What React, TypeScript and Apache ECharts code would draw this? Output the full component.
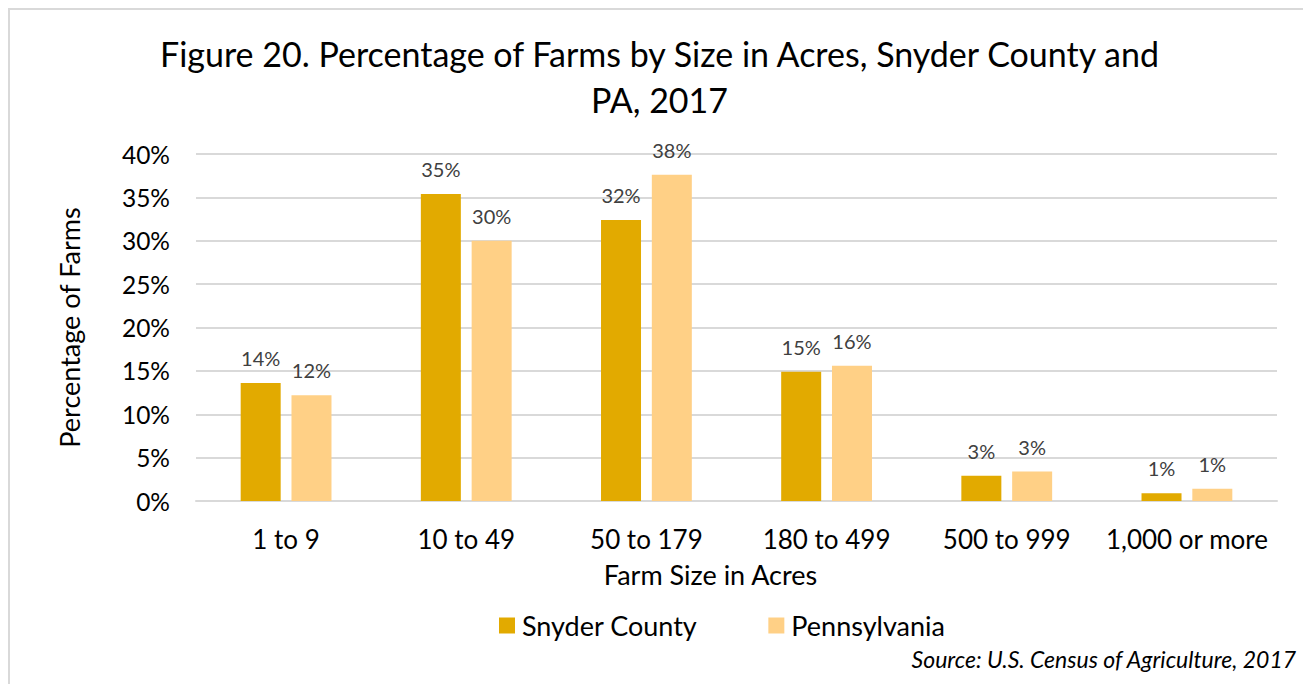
import React, { useEffect, useRef } from "react";
import * as echarts from "echarts";

const categories = ["1 to 9", "10 to 49", "50 to 179", "180 to 499", "500 to 999", "1,000 or more"];
const snyderValues = [13.6, 35.4, 32.4, 14.9, 2.9, 0.9];
const paValues = [12.2, 30.0, 37.6, 15.6, 3.4, 1.4];
const seriesNames = ["Snyder County", "Pennsylvania"];
const yTicks = { min: 0, max: 40, interval: 5 };

const FONT = "Lato";

export default function App() {
  const ref = useRef<HTMLDivElement>(null);
  useEffect(() => {
    if (!ref.current) return;
    const chart = echarts.init(ref.current, undefined, { renderer: "svg" });
    const labelCfg = {
      show: true,
      position: "top",
      distance: 15,
      fontFamily: FONT,
      fontSize: 20,
      color: "#404040",
      formatter: (p: any) => Math.round(p.value) + "%",
    };
    chart.setOption({
      animation: false,
      backgroundColor: "#ffffff",
      title: {
        text: "Figure 20. Percentage of Farms by Size in Acres, Snyder County and\nPA, 2017",
        left: "center",
        top: 17,
        textStyle: {
          fontFamily: FONT,
          fontSize: 34,
          fontWeight: "normal",
          color: "#000000",
          lineHeight: 46,
        },
      },
      legend: {
        data: seriesNames,
        left: 486,
        top: 599,
        itemWidth: 16,
        itemHeight: 16,
        itemGap: 71,
        icon: "rect",
        textStyle: { fontFamily: FONT, fontSize: 27, color: "#000000", padding: [0, 0, 0, 2] },
      },
      grid: { left: 188, right: 34, top: 146, bottom: 183, containLabel: false },
      xAxis: {
        type: "category",
        data: categories,
        name: "Farm Size in Acres",
        nameLocation: "middle",
        nameGap: 60,
        nameTextStyle: { fontFamily: FONT, fontSize: 27, color: "#000000", padding: [0, 52, 0, 0] },
        axisLine: { show: true, lineStyle: { color: "#d9d9d9", width: 2 } },
        axisTick: { show: false },
        axisLabel: { fontFamily: FONT, fontSize: 26, color: "#000000", margin: 25, interval: 0 },
      },
      yAxis: {
        type: "value",
        min: yTicks.min,
        max: yTicks.max,
        interval: yTicks.interval,
        name: "Percentage of Farms",
        nameLocation: "middle",
        nameGap: 113,
        nameTextStyle: { fontFamily: FONT, fontSize: 27, color: "#000000" },
        axisLine: { show: false },
        axisTick: { show: false },
        splitLine: { lineStyle: { color: "#d9d9d9", width: 2 } },
        axisLabel: { fontFamily: FONT, fontSize: 24.5, color: "#000000", margin: 26, formatter: "{value}%" },
      },
      series: [
        {
          name: seriesNames[0],
          type: "bar",
          data: snyderValues,
          barWidth: 40,
          barGap: "27%",
          itemStyle: { color: "#E2AA00" },
          label: labelCfg,
        },
        {
          name: seriesNames[1],
          type: "bar",
          data: paValues,
          barWidth: 40,
          itemStyle: { color: "#FFD086" },
          label: labelCfg,
        },
      ],
      graphic: [
        { type: "rect", shape: { x: 0, y: 0, width: 1303, height: 2 }, style: { fill: "#d9d9d9" }, silent: true },
        { type: "rect", shape: { x: 0, y: 0, width: 2, height: 676 }, style: { fill: "#d9d9d9" }, silent: true },
        {
          type: "text",
          right: 14,
          top: 639,
          style: {
            text: "Source: U.S. Census of Agriculture, 2017",
            fontFamily: FONT,
            fontSize: 23,
            fontStyle: "italic",
            fill: "#000000",
          },
        },
      ],
    });
    return () => chart.dispose();
  }, []);
  return <div ref={ref} style={{ width: 1303, height: 676 }} />;
}
